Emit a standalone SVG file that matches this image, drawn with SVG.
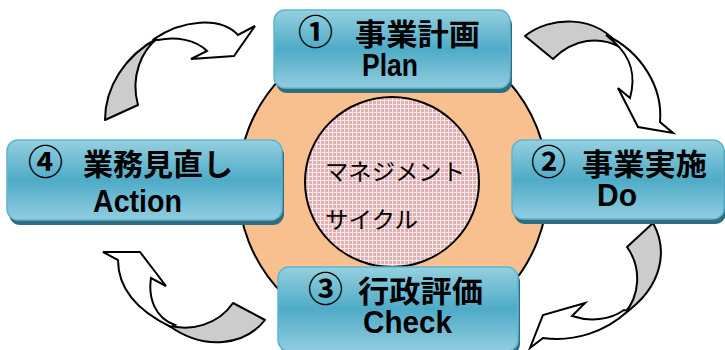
<svg xmlns="http://www.w3.org/2000/svg" width="725" height="350" viewBox="0 0 725 350">
<defs>
<linearGradient id="boxg" x1="0" y1="0" x2="0" y2="1">
<stop offset="0" stop-color="#95d0e0"/>
<stop offset="0.5" stop-color="#4eabc7"/>
<stop offset="1" stop-color="#92cde0"/>
</linearGradient>
<pattern id="grid" width="4" height="4" patternUnits="userSpaceOnUse">
<rect width="4" height="4" fill="#e0b0b3"/>
<rect x="0" y="0" width="4" height="1" fill="#f8e8e8"/>
<rect x="0" y="0" width="1" height="4" fill="#f8e8e8"/>
</pattern>
<style>
.shadow{fill:#2f6e7f}
.box{fill:url(#boxg);stroke:#5db6cf;stroke-width:1.5}
.t{font-family:"Liberation Sans","Noto Sans CJK JP",sans-serif;font-weight:bold;font-size:30px;fill:#000}
.n{font-family:"Noto Sans CJK JP",sans-serif;font-weight:bold;font-size:35px;fill:#000}
.l{font-family:"Liberation Sans",sans-serif;font-weight:bold;font-size:31px;fill:#000}
.c{font-family:"Noto Sans CJK JP",sans-serif;font-size:23px;fill:#000}
.gray{fill:#cccccc;stroke:#000;stroke-width:2;stroke-linejoin:round}
.white{fill:#ffffff;stroke:#000;stroke-width:2;stroke-linejoin:miter}
</style>
</defs>
<rect width="725" height="350" fill="#ffffff"/>
<g id="cycle">
<circle cx="393" cy="185" r="155" fill="#f9c08f" stroke="#000" stroke-width="2"/>
<ellipse cx="392" cy="182" rx="87" ry="85" fill="url(#grid)" stroke="#000" stroke-width="2"/>
<text class="c" x="325" y="180" textLength="140" lengthAdjust="spacingAndGlyphs">マネジメント</text>
<text class="c" x="325" y="228" textLength="93" lengthAdjust="spacingAndGlyphs">サイクル</text>
</g>
<g id="connectors">
<g id="arrow-tl">
<path class="gray" d="M105,120 C105,88 124,56 158,38 C142,50 130,76 138,105 Z"/>
<path class="white" d="M154,39 C182,20 220,16 238,35 L255,26 L234,56 L191,59 L207,51 C196,40 176,36 158,40 Z"/>
</g>
<g id="arrow-tr">
<path class="gray" d="M525,36 C550,16 596,14 620,47 C600,36 574,38 553,59 Z"/>
<path class="white" d="M606,35 C642,52 663,88 660,122 L673,133 L638,127 L618,88 L630,98 C636,76 632,58 614,42 Z"/>
</g>
<g id="arrow-br">
<path class="gray" d="M653,223 C667,248 665,285 624,314 C640,296 642,268 627,247 Z"/>
<path class="white" d="M628,311 C605,332 575,342 543,338 L530,348 L543,315 L585,303 L572,316 C590,322 610,320 624,310 Z"/>
</g>
<g id="arrow-bl">
<path class="gray" d="M265,320 C245,345 205,352 168,325 C190,332 218,325 233,303 Z"/>
<path class="white" d="M171,327 C140,312 118,290 118,260 L103,252 L140,252 L166,286 L151,278 C148,298 155,318 175,325 Z"/>
</g>
</g>
<g id="plan">
<rect class="shadow" x="276" y="14" width="236" height="79" rx="11"/>
<rect class="box" x="274" y="10" width="236" height="78" rx="11"/>
<text class="n" x="298" y="45">①</text>
<text class="t" x="355" y="45" textLength="125" lengthAdjust="spacingAndGlyphs">事業計画</text>
<text class="l" x="362" y="76" textLength="56" lengthAdjust="spacingAndGlyphs">Plan</text>
</g>
<g id="do">
<rect class="shadow" x="514" y="144" width="212" height="80" rx="11"/>
<rect class="box" x="512" y="140" width="212" height="79" rx="11"/>
<text class="n" x="531" y="175">②</text>
<text class="t" x="582" y="175" textLength="125" lengthAdjust="spacingAndGlyphs">事業実施</text>
<text class="l" x="597" y="206" textLength="40" lengthAdjust="spacingAndGlyphs">Do</text>
</g>
<g id="action">
<rect class="shadow" x="9" y="144" width="275" height="81" rx="11"/>
<rect class="box" x="7" y="140" width="275" height="80" rx="11"/>
<text class="n" x="28" y="175">④</text>
<text class="t" x="83" y="175" textLength="150" lengthAdjust="spacingAndGlyphs">業務見直し</text>
<text class="l" x="93" y="212" textLength="89" lengthAdjust="spacingAndGlyphs">Action</text>
</g>
<g id="check">
<rect class="shadow" x="280" y="271" width="240" height="84" rx="11"/>
<rect class="box" x="278" y="267" width="240" height="84" rx="11"/>
<text class="n" x="308" y="302">③</text>
<text class="t" x="358" y="302" textLength="125" lengthAdjust="spacingAndGlyphs">行政評価</text>
<text class="l" x="363" y="333" textLength="89" lengthAdjust="spacingAndGlyphs">Check</text>
</g>
</svg>
